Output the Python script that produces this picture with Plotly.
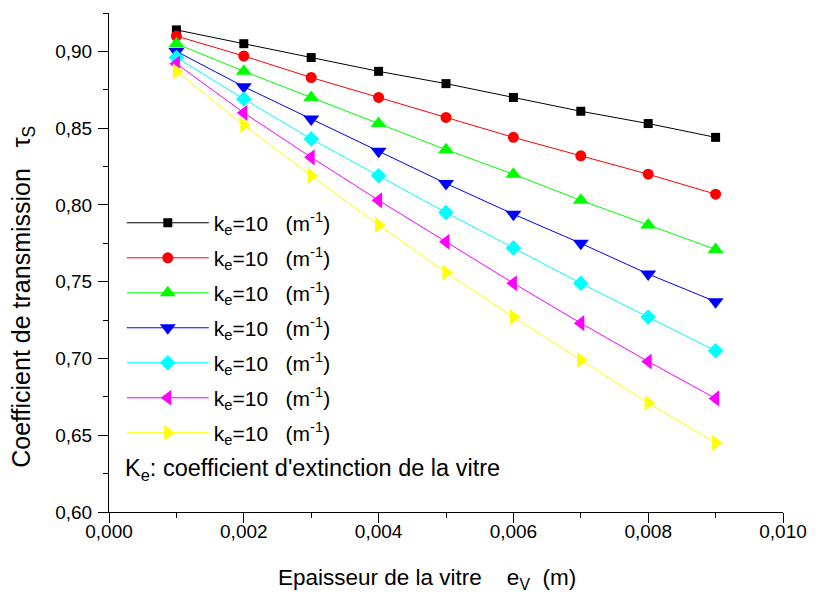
import plotly.graph_objects as go

thickness = [0.001, 0.002, 0.003, 0.004, 0.005, 0.006, 0.007, 0.008, 0.009]
tau_1 = [0.914, 0.905, 0.896, 0.887, 0.879, 0.870, 0.861, 0.853, 0.844]
tau_2 = [0.910, 0.897, 0.883, 0.870, 0.857, 0.844, 0.832, 0.820, 0.807]
tau_3 = [0.905, 0.887, 0.870, 0.853, 0.836, 0.820, 0.803, 0.787, 0.771]
tau_4 = [0.900, 0.877, 0.856, 0.835, 0.814, 0.794, 0.775, 0.755, 0.737]
tau_5 = [0.896, 0.869, 0.843, 0.819, 0.795, 0.772, 0.749, 0.727, 0.705]
tau_6 = [0.892, 0.860, 0.831, 0.803, 0.776, 0.749, 0.723, 0.698, 0.674]
tau_7 = [0.887, 0.852, 0.819, 0.787, 0.756, 0.727, 0.699, 0.671, 0.645]
series = [tau_1, tau_2, tau_3, tau_4, tau_5, tau_6, tau_7]
names = ["k<sub>e</sub>=10   (m<sup>-1</sup>)"] * 7
colors = ["#000000", "#FF0000", "#00FF00", "#0000FF", "#00FFFF", "#FF00FF", "#FFFF00"]
symbols = ["square", "circle", "triangle-up", "triangle-down", "diamond", "triangle-left", "triangle-right"]
sizes = [9, 11, 14, 14, 12, 14, 14]

FONT = "Liberation Sans, Arial, sans-serif"

fig = go.Figure()
for i, (ys, nm, c, s, sz) in enumerate(zip(series, names, colors, symbols, sizes)):
    fig.add_trace(go.Scatter(
        x=thickness, y=ys, name=nm, mode="lines+markers",
        line=dict(color=c, width=1),
        marker=dict(symbol=s, color=c, size=sz, line=dict(width=0)),
        legendgroup=f"g{i}",
    ))

fig.add_annotation(
    text="K<sub>e</sub>: coefficient d'extinction de la vitre",
    xref="paper", yref="paper", x=0.0206, y=0.086, xanchor="left", yanchor="middle",
    showarrow=False, font=dict(family=FONT, size=23.5, color="black"),
)
fig.add_annotation(
    text="Epaisseur de la vitre    e<sub>V</sub>  (m)",
    xref="paper", yref="paper", x=0.2485, y=-0.134, xanchor="left", yanchor="middle",
    showarrow=False, font=dict(family=FONT, size=22.5, color="black"),
)
fig.add_annotation(
    text="Coefficient de transmission   τ<sub>S</sub>",
    xref="paper", yref="paper", x=-0.128, y=0.084, xanchor="center", yanchor="bottom",
    textangle=-90, showarrow=False, font=dict(family=FONT, size=25, color="black"),
)

fig.update_layout(
    width=819, height=595,
    margin=dict(l=109, r=30, t=13, b=83),
    paper_bgcolor="white", plot_bgcolor="white",
    separators=", ",
    font=dict(family=FONT, color="black"),
    showlegend=True,
    legend=dict(
        x=0.019, y=0.62, xanchor="left", yanchor="top",
        bgcolor="rgba(0,0,0,0)", font=dict(family=FONT, size=21),
        traceorder="grouped", tracegroupgap=4.7, itemwidth=82,
    ),
    xaxis=dict(
        range=[0, 0.010], tickvals=[0, 0.002, 0.004, 0.006, 0.008, 0.010],
        tickformat=".3f", ticks="outside", ticklen=10, tickwidth=1, tickcolor="black",
        minor=dict(dtick=0.001, ticks="outside", ticklen=5, tickcolor="black", showgrid=False),
        showline=True, linecolor="black", linewidth=1, showgrid=False, zeroline=False,
        tickfont=dict(family=FONT, size=19), ticklabelstandoff=-8,
    ),
    yaxis=dict(
        range=[0.60, 0.925], tickvals=[0.60, 0.65, 0.70, 0.75, 0.80, 0.85, 0.90],
        tickformat=".2f", ticks="outside", ticklen=10, tickwidth=1, tickcolor="black",
        minor=dict(dtick=0.025, tick0=0.6, ticks="outside", ticklen=5, tickcolor="black", showgrid=False),
        showline=True, linecolor="black", linewidth=1, showgrid=False, zeroline=False,
        tickfont=dict(family=FONT, size=19), ticklabelstandoff=2,
    ),
)

fig.write_html("out.html")
